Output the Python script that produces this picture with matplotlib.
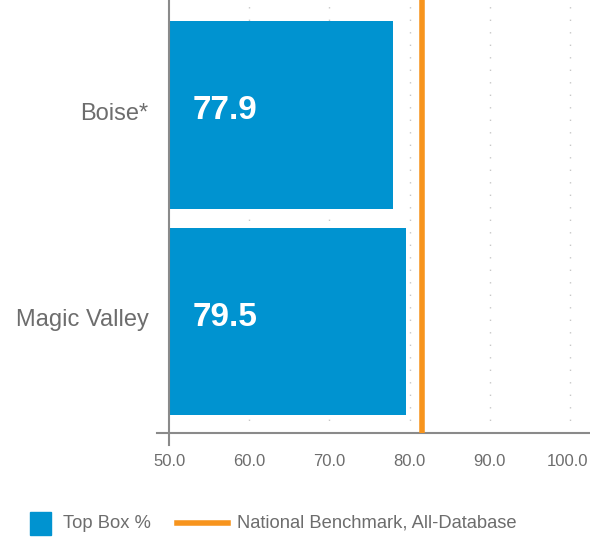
import matplotlib.pyplot as plt
import matplotlib.transforms as mtransforms
from matplotlib.patches import Rectangle
from matplotlib.lines import Line2D

# data
categories = ["Magic Valley", "Boise*"]
top_box = [79.5, 77.9]
benchmark = 81.5
x_ticks = [50, 60, 70, 80, 90, 100]
legend_labels = ["Top Box %", "National Benchmark, All-Database"]

blue = "#0093D0"
orange = "#F7941D"
grey = "#6d6d6d"
axis_grey = "#8a8a8a"

plt.rcParams['font.family'] = ['Liberation Sans', 'DejaVu Sans']

fig = plt.figure(figsize=(5.9, 5.39), dpi=100)
ax = fig.add_axes([157 / 590, 1 - 433 / 539, 1 - 157 / 590, 433 / 539])

base = 50
ypos = list(range(len(categories)))
ax.barh(ypos, [v - base for v in top_box], left=base, height=0.91, color=blue, zorder=2)
ax.axvline(benchmark, color=orange, linewidth=4, zorder=3)

for y, v in zip(ypos, top_box):
  ax.text(53, y + 0.02, f"{v:.1f}", color="white", fontsize=24, fontweight="bold",
          va="center", ha="left", zorder=4)

ax.set_xlim(48.5, 102.5)
ax.set_ylim(-0.54, 1.557)
ax.set_xticks(x_ticks)
ax.set_xticklabels([f"{t:.1f}" for t in x_ticks], color=grey, fontsize=12)
ax.set_yticks(ypos)
ax.set_yticklabels(categories, color=grey, fontsize=17)
ax.tick_params(axis="x", length=0, pad=15)
ax.tick_params(axis="y", length=0, pad=6)
# nudge category labels up a little, as in the original
shift = mtransforms.ScaledTranslation(0, 4 / 100, fig.dpi_scale_trans)
for lbl in ax.get_yticklabels():
  lbl.set_transform(lbl.get_transform() + shift)
# keep the last tick label inside the figure
ax.get_xticklabels()[-1].set_transform(
  ax.get_xticklabels()[-1].get_transform() + mtransforms.ScaledTranslation(-2 / 100, 0, fig.dpi_scale_trans))

for t in x_ticks[1:]:
  ax.axvline(t, color="#c8c8c8", linestyle=(0, (1, 8)), linewidth=1, zorder=1)

for s in ["top", "right", "left"]:
  ax.spines[s].set_visible(False)
ax.spines["bottom"].set_color(axis_grey)
ax.spines["bottom"].set_linewidth(1.5)
ax.plot([50, 50], [-0.598, 1.557], color=axis_grey, linewidth=1.5, clip_on=False, zorder=5)

# legend, drawn by hand in figure pixels
W, H = 590, 539
ly = 1 - 523 / H
fig.add_artist(Rectangle((30 / W, 1 - 535 / H), 21 / W, 23 / H, color=blue,
                         transform=fig.transFigure))
fig.text(63 / W, ly, legend_labels[0], color=grey, fontsize=13.2, va="center", ha="left")
fig.add_artist(Line2D([177 / W, 228 / W], [ly, ly], color=orange, linewidth=4,
                      transform=fig.transFigure))
fig.text(237 / W, ly, legend_labels[1], color=grey, fontsize=13.2, va="center", ha="left")

fig.savefig("out.png", dpi=100)
